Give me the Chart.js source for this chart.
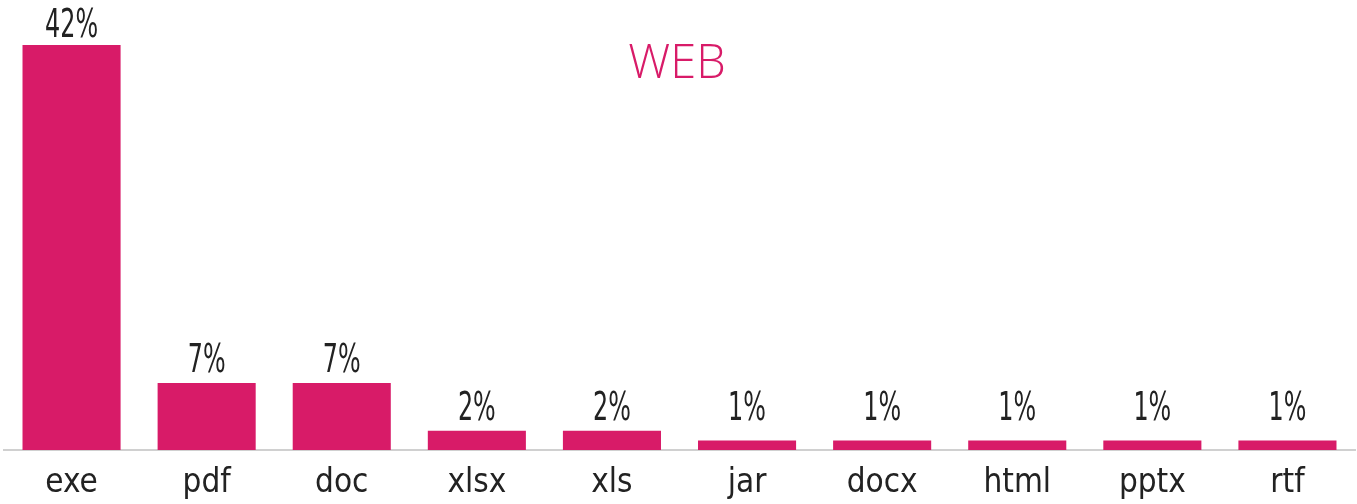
<!DOCTYPE html>
<html>
<head>
<meta charset="utf-8">
<script src="https://cdn.jsdelivr.net/npm/chart.js@4/dist/chart.umd.min.js"></script>
<style>
  html, body { margin: 0; padding: 0; background: #fff; }
  #wrap { width: 1357px; height: 504px; position: relative; }
</style>
</head>
<body>
<div id="wrap"><canvas id="webChart"></canvas></div>
<script>
const categories = ["exe", "pdf", "doc", "xlsx", "xls", "jar", "docx", "html", "pptx", "rtf"];
const shares = [42.3, 7, 7, 2, 2, 1, 1, 1, 1, 1];
const shareLabels = ["42%", "7%", "7%", "2%", "2%", "1%", "1%", "1%", "1%", "1%"];

const FONT = "'DejaVu Sans Condensed', 'Liberation Sans Narrow', sans-serif";
const PINK = "#D81B68";

// values above bars + WEB title
const labelsPlugin = {
  id: "labelsPlugin",
  afterDatasetsDraw(chart) {
    const ctx = chart.ctx;
    const meta = chart.getDatasetMeta(0);
    ctx.save();
    ctx.font = "39px " + FONT;
    ctx.fillStyle = "#222";
    ctx.textAlign = "center";
    ctx.textBaseline = "alphabetic";
    meta.data.forEach((bar, i) => {
      // labels of tiny bars don't sink below the 2% row, top one stays on canvas
      const y = Math.max(37, Math.min(bar.y - 11, 420));
      ctx.save();
      ctx.translate(bar.x, y);
      ctx.scale(0.68, 1); // fake a condensed face
      ctx.fillText(shareLabels[i], 0, 0);
      ctx.restore();
    });
    ctx.font = "300 47px 'Open Sans', Lato, sans-serif";
    ctx.fillStyle = PINK;
    ctx.textBaseline = "middle";
    ctx.fillText("WEB", 677, 65);
    ctx.restore();
  }
};

new Chart(document.getElementById("webChart"), {
  type: "bar",
  data: {
    labels: categories,
    datasets: [{
      data: shares,
      backgroundColor: PINK,
      borderWidth: 0,
      categoryPercentage: 1,
      barPercentage: 0.726
    }]
  },
  options: {
    responsive: true,
    maintainAspectRatio: false,
    animation: false,
    layout: { padding: { left: 4, right: 2, top: 0, bottom: 0 } },
    plugins: { legend: { display: false }, tooltip: { enabled: false } },
    scales: {
      x: {
        afterFit(scale) { scale.height = 54; },
        grid: { display: false, drawTicks: false },
        border: { display: true, color: "#d0d0d0", width: 2 },
        ticks: { color: "#222", font: { family: FONT, size: 33, lineHeight: 1 }, padding: 17 }
      },
      y: {
        min: 0,
        max: 47,
        display: false
      }
    }
  },
  plugins: [labelsPlugin]
});
</script>
</body>
</html>
